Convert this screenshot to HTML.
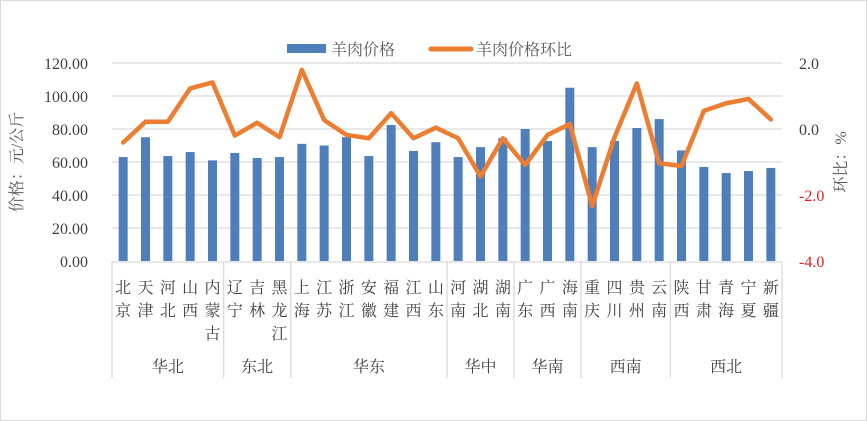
<!DOCTYPE html>
<html><head><meta charset="utf-8"><style>
html,body{margin:0;padding:0;background:#fff}
svg{display:block;font-family:"Liberation Serif","Noto Serif CJK SC",serif}
</style></head><body>
<svg id="c" width="867" height="421" viewBox="0 0 867 421" xmlns="http://www.w3.org/2000/svg">
<rect x="0.5" y="0.5" width="866" height="420" fill="#fff" stroke="#d9d9d9"/>
<g id="grid"></g><g id="bars"></g><g id="line"></g><g id="axes"></g>
<g>
<rect x="287" y="44" width="39" height="9" fill="#4e7fbb"/>
<text x="331" y="55" font-size="16" fill="#595959">羊肉价格</text>
<line x1="431" y1="49" x2="471" y2="49" stroke="#ed7d31" stroke-width="5" stroke-linecap="round"/>
<text x="476" y="55" font-size="16" fill="#595959">羊肉价格环比</text>
</g>
<text transform="translate(22,162) rotate(-90)" text-anchor="middle" font-size="16" fill="#595959">价格：元/公斤</text>
<text transform="translate(846,162) rotate(-90)" text-anchor="middle" font-size="16" fill="#595959">环比：%</text>
</svg>
<script>
const provinces=["北京","天津","河北","山西","内蒙古","辽宁","吉林","黑龙江","上海","江苏","浙江","安徽","福建","江西","山东","河南","湖北","湖南","广东","广西","海南","重庆","四川","贵州","云南","陕西","甘肃","青海","宁夏","新疆"];
const regions=["华北","东北","华东","华中","华南","西南","西北"];
const regionCounts=[5,3,7,3,3,4,5];
const prices=[63,75,63.6,66,61,65.5,62.4,63,71,70,75,63.6,82.4,66.7,72,63,69,74.5,80,72.7,105,69,72.7,80.6,86,67,57,53.3,54.5,56.4];
const ratios=[-0.41,0.22,0.22,1.23,1.41,-0.2,0.19,-0.25,1.79,0.27,-0.18,-0.28,0.48,-0.28,0.04,-0.28,-1.44,-0.28,-1.09,-0.18,0.15,-2.33,-0.25,1.38,-1.04,-1.12,0.55,0.78,0.91,0.29];
const leftTicks=["0.00","20.00","40.00","60.00","80.00","100.00","120.00"];
const rightTicks=["-4.0","-2.0","0.0","2.0"];
const NS="http://www.w3.org/2000/svg";
const X0=112,X1=782,Y0=261,Y1=63;
const cw=(X1-X0)/provinces.length;
const yL=v=>Y0-(v/120)*(Y0-Y1);
const yR=v=>Y0-((v+4)/6)*(Y0-Y1);
const xC=i=>X0+cw*(i+0.5);
function mk(t,a,p){const e=document.createElementNS(NS,t);for(const k in a)e.setAttribute(k,a[k]);p.appendChild(e);return e;}
const grid=document.getElementById('grid'),bars=document.getElementById('bars'),line=document.getElementById('line'),axes=document.getElementById('axes');
leftTicks.forEach(t=>{const v=parseFloat(t),y=yL(v);
 if(v>0){const g=mk('line',{x1:X0,x2:X1,y1:y,y2:y,stroke:'#d9d9d9','stroke-width':1.3},grid);
 
 }
 const tx=mk('text',{x:88,y:y+6,'text-anchor':'end','font-size':16,fill:'#404040'},axes);tx.textContent=t;
 
 });
rightTicks.forEach(t=>{const v=parseFloat(t),y=yR(v);
 const tx=mk('text',{x:799,y:y+6,'font-size':16,fill:v<0?'#e02020':'#404040'},axes);tx.textContent=t;
 
 });
prices.forEach((v,i)=>{const r=mk('rect',{x:xC(i)-4.5,y:yL(v),width:9,height:Y0-yL(v),fill:'#4e7fbb'},bars);
 
 });
const pl=mk('polyline',{points:ratios.map((v,i)=>xC(i)+','+yR(v)).join(' '),fill:'none',stroke:'#ed7d31','stroke-width':4.5,'stroke-linejoin':'round','stroke-linecap':'round'},line);


const ax=mk('line',{x1:X0,x2:X1,y1:Y0+1,y2:Y0+1,stroke:'#d9d9d9','stroke-width':1.3},axes);


provinces.forEach((p,i)=>{[...p].forEach((ch,k)=>{const t=mk('text',{x:xC(i),y:293+k*23,'text-anchor':'middle','font-size':16,fill:'#404040'},axes);t.textContent=ch;
 
 });});
let s=0;
const sep=x=>{const l=mk('line',{x1:x,x2:x,y1:Y0+1,y2:378,stroke:'#d9d9d9','stroke-width':1.3},axes);
 
 };
sep(X0);
regions.forEach((r,j)=>{const a=X0+cw*s;s+=regionCounts[j];const b=X0+cw*s;sep(b);
 const t=mk('text',{x:(a+b)/2,y:372,'text-anchor':'middle','font-size':16,fill:'#404040'},axes);t.textContent=r;
 
 });
</script>
</body></html>
